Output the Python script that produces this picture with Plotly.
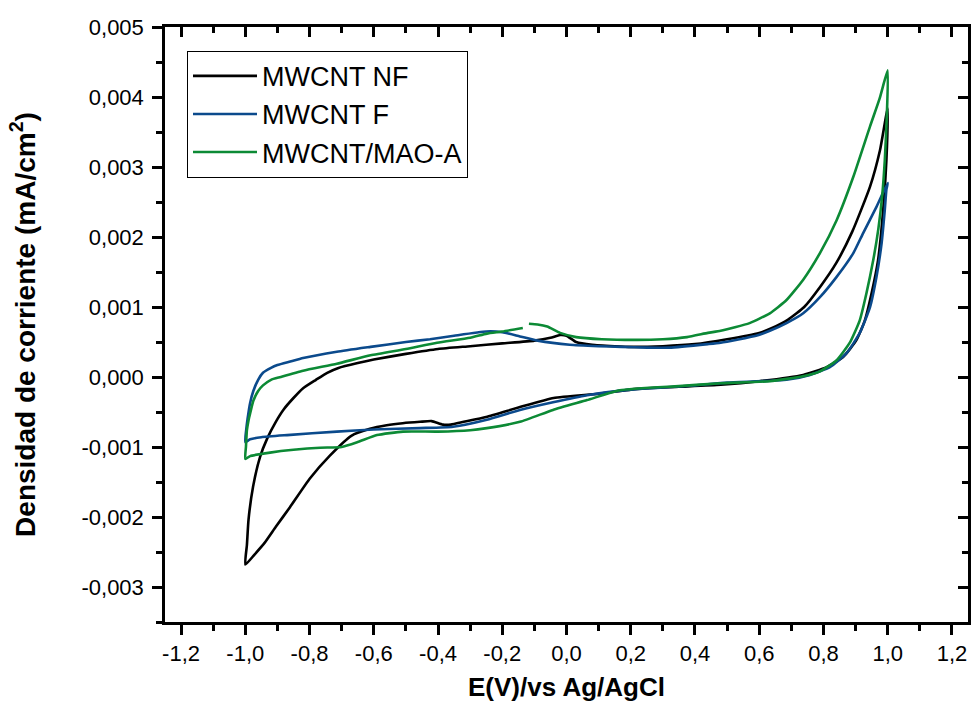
import plotly.graph_objects as go

# ---------------- data (E in V vs Ag/AgCl, current density in mA/cm^2) ----------------
# MWCNT NF : anodic scan (-1.0 -> 1.0) then cathodic scan (1.0 -> -1.0)
nf_up_x = [-1.0, -0.995, -0.99, -0.976, -0.954, -0.932, -0.905, -0.88, -0.85, -0.82, -0.78, -0.745,
           -0.71, -0.65, -0.6, -0.5, -0.4, -0.3, -0.2, -0.1, -0.05, -0.02, 0.0, 0.03, 0.08, 0.15,
           0.2, 0.3, 0.4, 0.5, 0.6, 0.64, 0.69, 0.74, 0.79, 0.84, 0.89, 0.945, 0.976, 1.0]
nf_up_y = [-0.00268, -0.00240, -0.00204, -0.00157, -0.00114, -0.00088, -0.00064, -0.00046, -0.00030,
           -0.00016, -0.00004, 0.00006, 0.00013, 0.00020, 0.00025, 0.00033, 0.00040, 0.00044, 0.00048,
           0.00052, 0.00056, 0.00060, 0.00059, 0.00050, 0.00046, 0.00044, 0.00043, 0.00044, 0.00047,
           0.00054, 0.00063, 0.00070, 0.00082, 0.00100, 0.00129, 0.00163, 0.00208, 0.00272, 0.00324,
           0.00384]
nf_dn_x = [0.996, 0.986, 0.97, 0.95, 0.929, 0.903, 0.862, 0.81, 0.737, 0.6, 0.48, 0.35, 0.22,
           0.1, -0.04, -0.145, -0.25, -0.32, -0.36, -0.385, -0.42, -0.456, -0.51, -0.56, -0.612, -0.67,
           -0.736, -0.799, -0.861, -0.905, -0.94, -0.972, -1.0]
nf_dn_y = [0.00310, 0.00239, 0.00167, 0.00120, 0.00081, 0.00053, 0.00029, 0.00014, 0.00003,
           -0.00006, -0.00011, -0.00014, -0.00017, -0.00024, -0.00030, -0.00043, -0.00057,
           -0.00064, -0.00068, -0.00068, -0.00063, -0.00064, -0.00066, -0.00069, -0.00074, -0.00084,
           -0.00112, -0.00145, -0.00186, -0.00214, -0.00237, -0.00254, -0.00268]

# MWCNT F
f_up_x = [-1.0, -0.997, -0.993, -0.985, -0.975, -0.96, -0.945, -0.92, -0.9, -0.86, -0.82, -0.715,
          -0.61, -0.5, -0.425, -0.35, -0.25, -0.2, -0.145, -0.09, 0.01, 0.1, 0.17, 0.25, 0.32, 0.44,
          0.48, 0.59, 0.633, 0.685, 0.737, 0.789, 0.841, 0.893, 0.924, 0.965, 1.0]
f_up_y = [-0.00093, -0.00075, -0.00060, -0.00037, -0.00020, -0.00004, 0.00006, 0.00013, 0.00017,
          0.00022, 0.00027, 0.00036, 0.00043, 0.00050, 0.00054, 0.00059, 0.00065, 0.00064, 0.00058,
          0.00052, 0.00046, 0.00044, 0.00043, 0.00042, 0.00042, 0.00047, 0.00049, 0.00059, 0.00066,
          0.00077, 0.00091, 0.00114, 0.00143, 0.00177, 0.00206, 0.00243, 0.00277]
f_dn_x = [0.996, 0.991, 0.981, 0.965, 0.945, 0.913, 0.872, 0.82, 0.758, 0.685, 0.5, 0.4,
          0.3, 0.2, 0.064, -0.042, -0.145, -0.248, -0.353, -0.456, -0.6, -0.715, -0.87, -0.95, -0.985, -1.0]
f_dn_y = [0.00268, 0.00239, 0.00191, 0.00143, 0.00100, 0.00063, 0.00034, 0.00014, 0.00003,
          -0.00004, -0.00008, -0.00012, -0.00015, -0.00018, -0.00026, -0.00036,
          -0.00047, -0.00061, -0.00071, -0.00073, -0.00075, -0.00078, -0.00083, -0.00086, -0.00089, -0.00093]

# MWCNT/MAO-A : recorded starting at -0.117 V (open loop with a small gap)
mao_a_x = [-0.117, -0.09, -0.06, -0.02, 0.03, 0.11, 0.22, 0.30, 0.375, 0.44, 0.48, 0.57, 0.633,
           0.685, 0.737, 0.789, 0.841, 0.893, 0.945, 0.975, 1.0]
mao_a_y = [0.00076, 0.00075, 0.00072, 0.00063, 0.00057, 0.00054, 0.00053, 0.00054, 0.00057, 0.00063,
           0.00066, 0.00077, 0.00091, 0.00110, 0.00139, 0.00177, 0.00224, 0.00286, 0.00358, 0.00398,
           0.00438]
mao_b_x = [0.997, 0.991, 0.983, 0.971, 0.955, 0.934, 0.913, 0.882, 0.841, 0.789, 0.737, 0.633, 0.48,
           0.35, 0.166, 0.064, -0.042, -0.145, -0.248, -0.3, -0.4, -0.509, -0.59, -0.65, -0.7, -0.767,
           -0.85, -0.923, -0.985, -1.0]
mao_b_y = [0.00370, 0.00310, 0.00260, 0.00212, 0.00167, 0.00120, 0.00081, 0.00049, 0.00024, 0.00008,
           0.00001, -0.00006, -0.00009, -0.00013, -0.00019, -0.00033, -0.00047, -0.00064, -0.00073,
           -0.00076, -0.00078, -0.00078, -0.00083, -0.00093, -0.00100, -0.00101, -0.00104, -0.00108,
           -0.00113, -0.00117]
mao_c_x = [-0.998, -0.995, -0.99, -0.985, -0.975, -0.96, -0.945, -0.92, -0.89, -0.82, -0.715, -0.61,
           -0.5, -0.403, -0.3, -0.248, -0.2, -0.136]
mao_c_y = [-0.00100, -0.00076, -0.00062, -0.00052, -0.00034, -0.00020, -0.00012, -0.00004, 0.00000,
           0.00009, 0.00019, 0.00031, 0.00040, 0.00049, 0.00056, 0.00062, 0.00065, 0.00070]

series_names = ["MWCNT NF", "MWCNT F", "MWCNT/MAO-A"]
series_colors = ["#000000", "#0b4a8c", "#0c8a35"]

x_ticks = [-1.2, -1.0, -0.8, -0.6, -0.4, -0.2, 0.0, 0.2, 0.4, 0.6, 0.8, 1.0, 1.2]
x_ticktext = ["-1,2", "-1,0", "-0,8", "-0,6", "-0,4", "-0,2", "0,0", "0,2", "0,4", "0,6", "0,8", "1,0", "1,2"]
y_ticks = [-0.003, -0.002, -0.001, 0.0, 0.001, 0.002, 0.003, 0.004, 0.005]
y_ticktext = ["-0,003", "-0,002", "-0,001", "0,000", "0,001", "0,002", "0,003", "0,004", "0,005"]

x_range = [-1.25, 1.25]
y_range = [-0.0035, 0.005]

# ---------------- figure ----------------
curves = [
    (nf_up_x + nf_dn_x, nf_up_y + nf_dn_y),
    (f_up_x + f_dn_x, f_up_y + f_dn_y),
    (mao_a_x + mao_b_x + mao_c_x, mao_a_y + mao_b_y + mao_c_y),
]

fig = go.Figure()
for (cx, cy), name, col in zip(curves, series_names, series_colors):
    fig.add_trace(go.Scatter(x=cx, y=cy, mode="lines", name=name,
                             line=dict(color=col, width=2.6, shape="spline", smoothing=0.5)))

# invisible trace to anchor the mirrored (top/right) axes
fig.add_trace(go.Scatter(x=[None], y=[None], xaxis="x2", yaxis="y2", showlegend=False,
                         hoverinfo="skip"))

FONT = "Liberation Sans, Arial, sans-serif"
axis_common = dict(showline=True, linecolor="black", linewidth=2.5, showgrid=False, zeroline=False,
                   tickcolor="black", tickwidth=2.5, ticklen=10)

fig.update_layout(
    width=971, height=711,
    margin=dict(l=165, r=3, t=27, b=89),
    paper_bgcolor="white", plot_bgcolor="white",
    font=dict(family=FONT, color="black", size=22),
    xaxis=dict(range=x_range, tickmode="array", tickvals=x_ticks, ticktext=x_ticktext,
               ticks="outside", tickfont=dict(size=22),
               minor=dict(tickmode="linear", tick0=0, dtick=0.1, ticks="outside", ticklen=6,
                          tickwidth=2.5, tickcolor="black"),
               title=dict(text="<b>E(V)/vs Ag/AgCl</b>", font=dict(size=26), standoff=13),
               **axis_common),
    yaxis=dict(range=y_range, tickmode="array", tickvals=y_ticks, ticktext=y_ticktext,
               ticks="outside", tickfont=dict(size=22), ticklabelstandoff=4,
               minor=dict(tickmode="linear", tick0=0, dtick=0.0005, ticks="outside", ticklen=6,
                          tickwidth=2.5, tickcolor="black"),
               title=dict(text="<b>Densidad de corriente (mA/cm<sup>2</sup>)</b>", font=dict(size=28),
                          standoff=38),
               **axis_common),
    xaxis2=dict(range=x_range, overlaying="x", side="top", anchor="y2", tickmode="array",
                tickvals=x_ticks, ticks="inside", showticklabels=False,
                minor=dict(tickmode="linear", tick0=0, dtick=0.1, ticks="inside", ticklen=6,
                           tickwidth=2.5, tickcolor="black"),
                **axis_common),
    yaxis2=dict(range=y_range, overlaying="y", side="right", anchor="x2", tickmode="array",
                tickvals=y_ticks, ticks="inside", showticklabels=False,
                minor=dict(tickmode="linear", tick0=0, dtick=0.0005, ticks="inside", ticklen=6,
                           tickwidth=2.5, tickcolor="black"),
                **axis_common),
    legend=dict(x=0.0274, y=0.96, xanchor="left", yanchor="top", bgcolor="white",
                bordercolor="black", borderwidth=1, font=dict(size=27), itemwidth=64,
                tracegroupgap=0),
    showlegend=True,
)

fig.write_html("out.html")
